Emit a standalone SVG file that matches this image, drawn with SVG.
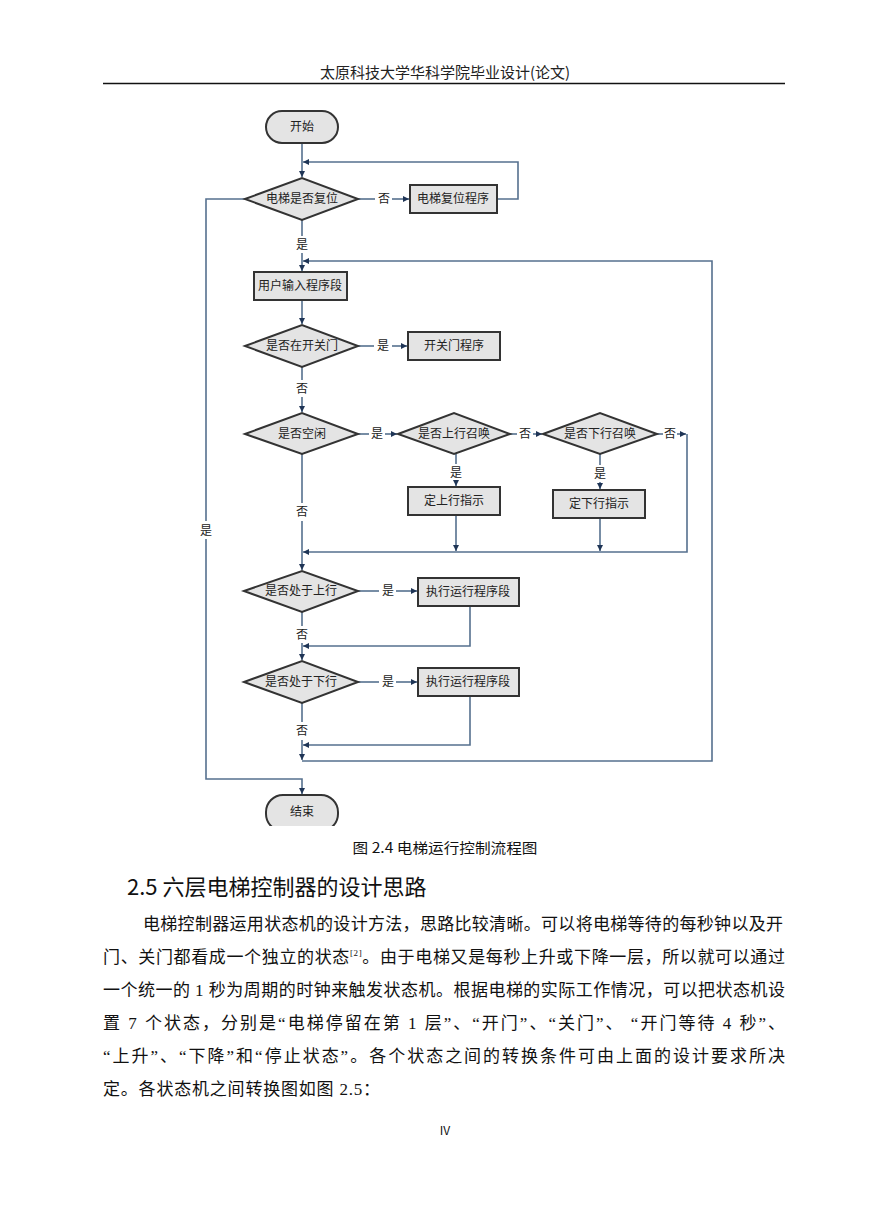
<svg xmlns="http://www.w3.org/2000/svg" width="869" height="1228" viewBox="0 0 869 1228">
<style>
.cjk{font-family:"Noto Sans CJK SC","Noto Sans",sans-serif;}
.ser{font-family:"Liberation Serif","Noto Sans CJK SC",serif;}
.shape{fill:#e4e4e4;stroke:#333;stroke-width:2;}
.lbl{font-family:"Noto Sans CJK SC",sans-serif;font-size:12px;fill:#222;text-anchor:middle;}
.con{fill:none;stroke:#55708e;stroke-width:1.6;}
</style>
<defs>
<marker id="ah" markerWidth="8" markerHeight="8" refX="6" refY="3" orient="auto" markerUnits="userSpaceOnUse">
<path d="M0,0 L6,3 L0,6 z" fill="#1f3556"/>
</marker>
<clipPath id="imgclip"><rect x="180" y="100" width="560" height="726"/></clipPath>
</defs>
<rect width="869" height="1228" fill="#fff"/>

<text class="cjk" x="445" y="78" font-size="15" text-anchor="middle" fill="#222">太原科技大学华科学院毕业设计(论文)</text>
<line x1="103" y1="83.5" x2="785" y2="83.5" stroke="#111" stroke-width="1.5"/>

<g clip-path="url(#imgclip)">
<g id="connectors">
<line class="con" x1="302" y1="143" x2="302" y2="177" marker-end="url(#ah)"/>
<polyline class="con" points="497,199 518,199 518,162 303,162" marker-end="url(#ah)"/>
<line class="con" x1="358" y1="199" x2="375" y2="199"/>
<line class="con" x1="392" y1="199" x2="409" y2="199" marker-end="url(#ah)"/>
<polyline class="con" points="245,199 206,199 206,521"/>
<polyline class="con" points="206,539 206,779 302,779 302,794" marker-end="url(#ah)"/>
<line class="con" x1="302" y1="220" x2="302" y2="236"/>
<line class="con" x1="302" y1="253" x2="302" y2="271" marker-end="url(#ah)"/>
<polyline class="con" points="302,761 712,761 712,261 303,261" marker-end="url(#ah)"/>
<line class="con" x1="302" y1="300" x2="302" y2="324" marker-end="url(#ah)"/>
<line class="con" x1="358" y1="346" x2="374" y2="346"/>
<line class="con" x1="392" y1="346" x2="407" y2="346" marker-end="url(#ah)"/>
<line class="con" x1="302" y1="367" x2="302" y2="380"/>
<line class="con" x1="302" y1="397" x2="302" y2="412" marker-end="url(#ah)"/>
<line class="con" x1="358" y1="434" x2="369" y2="434"/>
<line class="con" x1="385" y1="434" x2="397" y2="434" marker-end="url(#ah)"/>
<line class="con" x1="510" y1="434" x2="517" y2="434"/>
<line class="con" x1="533" y1="434" x2="542" y2="434" marker-end="url(#ah)"/>
<line class="con" x1="657" y1="434" x2="663" y2="434"/>
<line class="con" x1="677" y1="434" x2="686" y2="434" marker-end="url(#ah)"/>
<polyline class="con" points="687,434 687,552 303,552" marker-end="url(#ah)"/>
<line class="con" x1="456" y1="454" x2="456" y2="464"/>
<line class="con" x1="456" y1="481" x2="456" y2="486" marker-end="url(#ah)"/>
<line class="con" x1="456" y1="515" x2="456" y2="551" marker-end="url(#ah)"/>
<line class="con" x1="600" y1="454" x2="600" y2="465"/>
<line class="con" x1="600" y1="482" x2="600" y2="489" marker-end="url(#ah)"/>
<line class="con" x1="600" y1="518" x2="600" y2="551" marker-end="url(#ah)"/>
<line class="con" x1="302" y1="454" x2="302" y2="503"/>
<line class="con" x1="302" y1="521" x2="302" y2="570" marker-end="url(#ah)"/>
<line class="con" x1="358" y1="591" x2="379" y2="591"/>
<line class="con" x1="396" y1="591" x2="417" y2="591" marker-end="url(#ah)"/>
<polyline class="con" points="470,606 470,646 303,646" marker-end="url(#ah)"/>
<line class="con" x1="302" y1="612" x2="302" y2="626"/>
<line class="con" x1="302" y1="643" x2="302" y2="660" marker-end="url(#ah)"/>
<line class="con" x1="358" y1="682" x2="379" y2="682"/>
<line class="con" x1="396" y1="682" x2="417" y2="682" marker-end="url(#ah)"/>
<polyline class="con" points="470,696 470,745 303,745" marker-end="url(#ah)"/>
<line class="con" x1="302" y1="703" x2="302" y2="722"/>
<line class="con" x1="302" y1="740" x2="302" y2="760" marker-end="url(#ah)"/>
<text class="lbl" x="384" y="203">否</text>
<text class="lbl" x="206" y="535">是</text>
<text class="lbl" x="302" y="249">是</text>
<text class="lbl" x="383" y="350">是</text>
<text class="lbl" x="302" y="393">否</text>
<text class="lbl" x="377" y="438">是</text>
<text class="lbl" x="525" y="438">否</text>
<text class="lbl" x="670" y="438">否</text>
<text class="lbl" x="456" y="477">是</text>
<text class="lbl" x="600" y="478">是</text>
<text class="lbl" x="302" y="516">否</text>
<text class="lbl" x="388" y="595">是</text>
<text class="lbl" x="302" y="639">否</text>
<text class="lbl" x="388" y="686">是</text>
<text class="lbl" x="302" y="735">否</text>
</g>

<g id="start"><rect class="shape" x="266" y="111" width="72" height="32" rx="16"/><text class="lbl" x="302" y="131">开始</text></g>
<g id="d-reset"><polygon class="shape" points="245,199 302,178 358,199 302,220"/><text class="lbl" x="302" y="203">电梯是否复位</text></g>
<g id="b-reset"><rect class="shape" x="410" y="185" width="87" height="28"/><text class="lbl" x="453" y="203">电梯复位程序</text></g>
<g id="b-input"><rect class="shape" x="254" y="272" width="93" height="28"/><text class="lbl" x="300" y="290">用户输入程序段</text></g>
<g id="d-door"><polygon class="shape" points="245,346 302,325 358,346 302,367"/><text class="lbl" x="302" y="350">是否在开关门</text></g>
<g id="b-door"><rect class="shape" x="408" y="332" width="92" height="28"/><text class="lbl" x="454" y="350">开关门程序</text></g>
<g id="d-idle"><polygon class="shape" points="245,434 302,413 358,434 302,454"/><text class="lbl" x="302" y="438">是否空闲</text></g>
<g id="d-upcall"><polygon class="shape" points="398,434 454,413 510,434 454,454"/><text class="lbl" x="454" y="438">是否上行召唤</text></g>
<g id="d-downcall"><polygon class="shape" points="543,434 600,413 657,434 600,454"/><text class="lbl" x="600" y="438">是否下行召唤</text></g>
<g id="b-upset"><rect class="shape" x="408" y="487" width="92" height="28"/><text class="lbl" x="454" y="505">定上行指示</text></g>
<g id="b-downset"><rect class="shape" x="553" y="490" width="92" height="28"/><text class="lbl" x="599" y="508">定下行指示</text></g>
<g id="d-goingup"><polygon class="shape" points="244,591 302,571 358,591 302,612"/><text class="lbl" x="301" y="595">是否处于上行</text></g>
<g id="b-run1"><rect class="shape" x="418" y="578" width="101" height="28"/><text class="lbl" x="468" y="596">执行运行程序段</text></g>
<g id="d-goingdown"><polygon class="shape" points="244,682 302,661 358,682 302,703"/><text class="lbl" x="301" y="686">是否处于下行</text></g>
<g id="b-run2"><rect class="shape" x="418" y="668" width="101" height="28"/><text class="lbl" x="468" y="686">执行运行程序段</text></g>
<g id="end"><rect class="shape" x="266" y="795" width="72" height="36" rx="17"/><text class="lbl" x="302" y="816">结束</text></g>
</g>

<text class="cjk" x="445" y="853" font-size="14" text-anchor="middle" fill="#111" textLength="185" lengthAdjust="spacingAndGlyphs">图 2.4 电梯运行控制流程图</text>
<text class="cjk" x="127" y="895" font-size="22" fill="#111">2.5 六层电梯控制器的设计思路</text>

<g class="ser" font-size="17" fill="#111">
<text x="143" y="930" textLength="640" lengthAdjust="spacing">电梯控制器运用状态机的设计方法，思路比较清晰。可以将电梯等待的每秒钟以及开</text>
<text x="103" y="963" textLength="682" lengthAdjust="spacing">门、关门都看成一个独立的状态<tspan font-size="9" dy="-7">[2]</tspan><tspan dy="7">。由于电梯又是每秒上升或下降一层，所以就可以通过</tspan></text>
<text x="103" y="996" textLength="682" lengthAdjust="spacing">一个统一的 1 秒为周期的时钟来触发状态机。根据电梯的实际工作情况，可以把状态机设</text>
<text x="103" y="1029" textLength="682" lengthAdjust="spacing">置 7 个状态，分别是“电梯停留在第 1 层”、“开门”、“关门”、 “开门等待 4 秒”、</text>
<text x="103" y="1062" textLength="682" lengthAdjust="spacing">“上升”、“下降”和“停止状态”。各个状态之间的转换条件可由上面的设计要求所决</text>
<text x="103" y="1095" letter-spacing="0.8">定。各状态机之间转换图如图 2.5：</text>
</g>
<text class="cjk" x="445" y="1135" font-size="12" text-anchor="middle" fill="#111">IV</text>
</svg>
